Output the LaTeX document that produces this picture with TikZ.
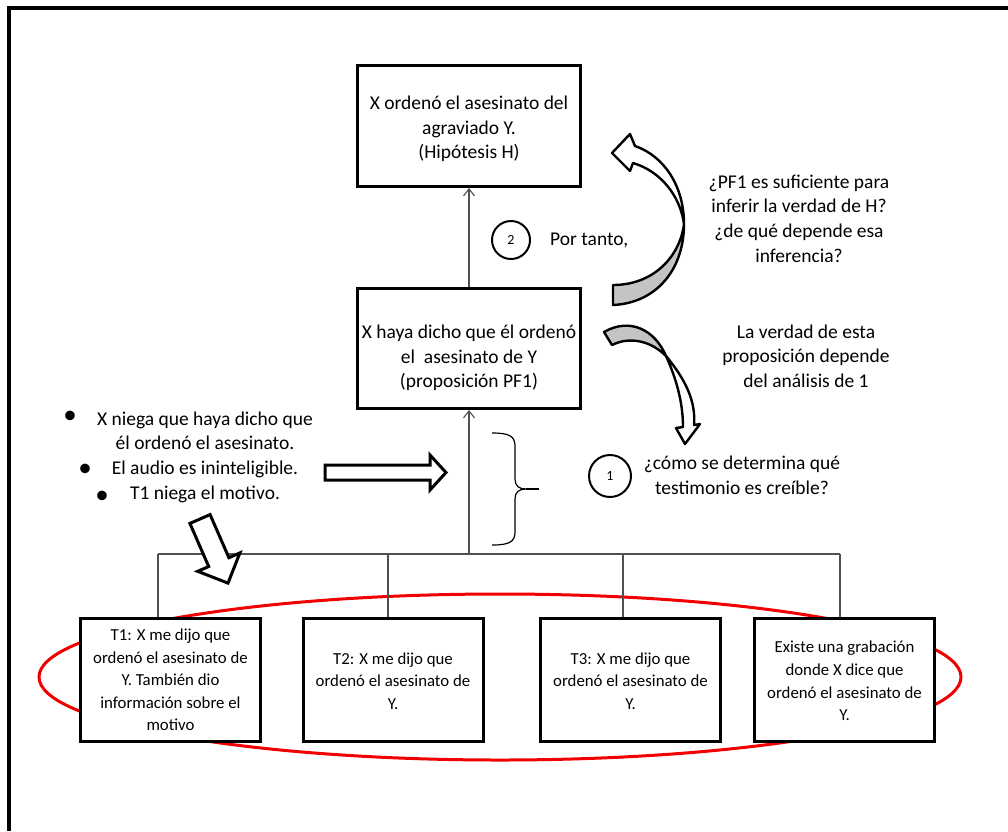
\documentclass[tikz,border=0pt]{standalone}
\usepackage{fontspec}
\setmainfont{Carlito}
\usetikzlibrary{arrows.meta,shadows}
\definecolor{linegray}{HTML}{505050}
\definecolor{backface}{HTML}{C4C4C4}
\definecolor{ringred}{HTML}{F00000}
\begin{document}
\begin{tikzpicture}[x=1pt,y=-1pt,
  box/.style={draw=black, line width=3pt, fill=white, inner sep=0pt,
              drop shadow={shadow xshift=1pt, shadow yshift=-1.5pt, fill=black!45, opacity=1}},
  txt/.style={font=\fontsize{19.5}{24.6}\selectfont, align=center, inner sep=0pt},
  smalltxt/.style={font=\fontsize{16.8}{22.6}\selectfont, align=center, inner sep=0pt},
  bullet/.style={font=\fontsize{27}{27}\selectfont, inner sep=0pt},
  link/.style={draw=linegray, line width=1.1pt},
  uparrow/.style={link, -{Straight Barb[length=7pt,width=11pt,line width=1.1pt]}},
  badge/.style={circle, draw=black, line width=2pt, minimum size=38pt, inner sep=0pt,
                font=\fontsize{14}{16}\selectfont},
  blockarrow/.style={draw=black, line width=3pt, fill=white, line join=miter},
  ribbon/.style={draw=black, line width=2.4pt, line join=round}
]
\useasboundingbox (0,0) rectangle (1008,831);

% page frame (top and left rules)
\draw[line width=4pt, line join=miter] (9,831) -- (9,8) -- (1008,8);

% red ring around the four pieces of evidence
\draw[ringred, line width=3pt] (500,677) ellipse [x radius=461, y radius=83];

% hypothesis and intermediate proposition
\node[box, minimum width=223pt, minimum height=121pt] (hyp) at (469,126) {};
\node[txt] (hyptxt) at (469,129) {X ordenó el asesinato del\\agraviado Y.\\(Hipótesis H)};
\node[box, minimum width=223pt, minimum height=120pt] (pf1) at (469,348.5) {};
\node[txt] (pf1txt) at (469,358) {X haya dicho que él ordenó\\el\ \ asesinato de Y\\(proposición PF1)};

% pieces of evidence
\node[box, minimum width=180pt, minimum height=123pt] (t1) at (170.5,680) {};
\node[box, minimum width=180pt, minimum height=123pt] (t2) at (393,680) {};
\node[box, minimum width=180pt, minimum height=123pt] (t3) at (630.5,680) {};
\node[box, minimum width=180pt, minimum height=123pt] (t4) at (844.5,680) {};
\node[smalltxt] (t1txt) at (t1) {T1: X me dijo que\\ordenó el asesinato de\\Y. También dio\\información sobre el\\motivo};
\node[smalltxt] (t2txt) at ([yshift=-1pt]t2.center) {T2: X me dijo que\\ordenó el asesinato de\\Y.};
\node[smalltxt] (t3txt) at ([yshift=-1pt]t3.center) {T3: X me dijo que\\ordenó el asesinato de\\Y.};
\node[smalltxt] (t4txt) at ([yshift=-1pt]t4.center) {Existe una grabación\\donde X dice que\\ordenó el asesinato de\\Y.};

% tree of support
\coordinate (hub) at (469,554);
\coordinate (b1) at (158,554);
\coordinate (b2) at (388,554);
\coordinate (b3) at (623,554);
\coordinate (b4) at (840,554);
\draw[link] (b1) -- (b4);
\draw[link] (b1) -- (b1 |- t1.north);
\draw[link] (b2) -- (b2 |- t2.north);
\draw[link] (b3) -- (b3 |- t3.north);
\draw[link] (b4) -- (b4 |- t4.north);
\draw[uparrow] (hub) -- (pf1.south);
\draw[uparrow] (pf1.north) -- (hyp.south);

% step 2
\node[badge] (two) at (511,240) {2};
\node[txt, anchor=west] (therefore) at (550,240) {Por tanto,};

% step 1
\node[badge, minimum size=42pt] (one) at (610,476) {1};
\node[txt] (q1) at (742,475) {¿cómo se determina qué\\testimonio es creíble?};

% brace grouping the support
\coordinate (brtip) at (539,489);
\draw[line width=1.2pt] (492,433) .. controls (509,433) and (515,436) .. (515,446) -- (515,479)
  .. controls (515,486) and (519,489) .. (526,489)
  .. controls (519,489) and (515,492) .. (515,499) -- (515,532)
  .. controls (515,542) and (509,545) .. (492,545);
\draw[line width=2pt] (526,489) -- (brtip);

% questions on the right
\node[txt] (q2) at (799,218.5) {¿PF1 es suficiente para\\inferir la verdad de H?\\¿de qué depende esa\\inferencia?};
\node[txt] (dep) at (806,356) {La verdad de esta\\proposición depende\\del análisis de 1};

% curved arrow towards the hypothesis
\draw[ribbon, fill=backface] (613,305) .. controls (656,303) and (684,270) .. (684,224)
  .. controls (680,256) and (654,285) .. (613,285) -- cycle;
\draw[ribbon, fill=white] (684,224) .. controls (684,186) and (664,156) .. (635,146)
  -- (630,134) -- (612,153) -- (630,171) -- (633,163)
  .. controls (660,171) and (680,195) .. (684,224) -- cycle;

% curved arrow towards step 1
\draw[ribbon, fill=backface] (604,332) .. controls (630,317) and (655,330) .. (666,356)
  .. controls (651,341) and (630,336) .. (612,345) -- cycle;
\draw[ribbon, fill=white] (666,356) .. controls (686,380) and (696,402) .. (694,425)
  -- (700,424) -- (685,444) -- (676,428) -- (683,427)
  .. controls (683,402) and (676,378) .. (666,356) -- cycle;

% objections
\node[txt] (obj) at (205,457) {X niega que haya dicho que\\él ordenó el asesinato.\\El audio es ininteligible.\\T1 niega el motivo.};
\node[bullet] (bul1) at (70,417) {•};
\node[bullet] (bul2) at (85,470) {•};
\node[bullet] (bul3) at (102,497) {•};

% block arrows from the objections
\draw[blockarrow] (325,465) -- (430,465) -- (430,455) -- (446,472.5) -- (430,490) -- (430,480) -- (325,480) -- cycle;
\draw[blockarrow] (210.1,514.6) -- (228.9,557.7) -- (239.9,552.9) -- (228,583.1)
  -- (197.7,571.3) -- (208.7,566.5) -- (189.9,523.4) -- cycle;
\end{tikzpicture}
\end{document}
